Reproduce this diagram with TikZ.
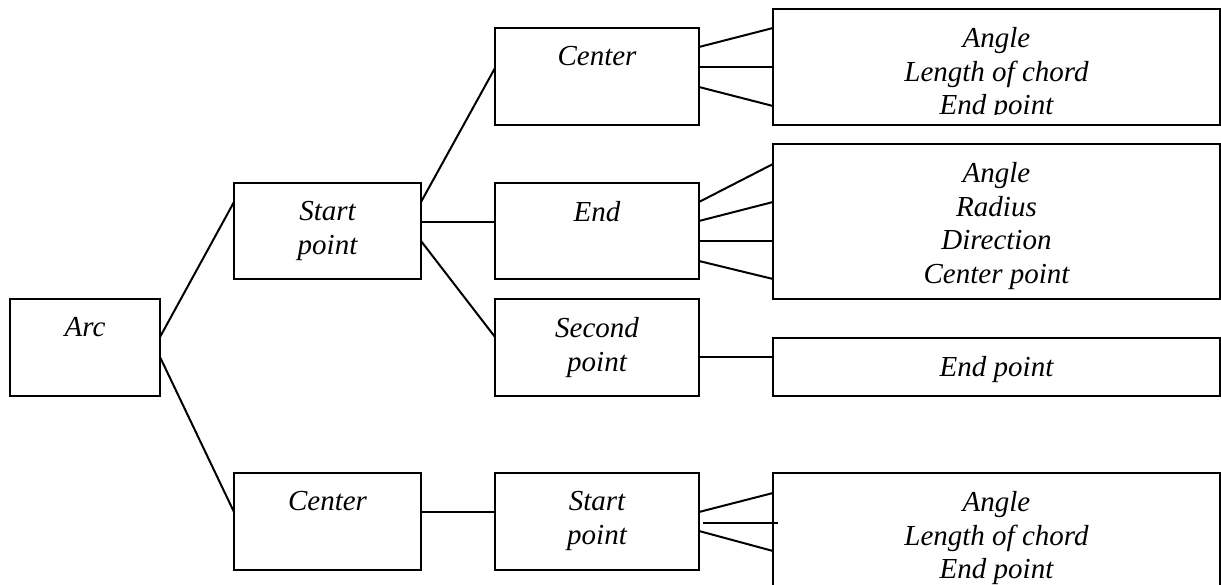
\documentclass[tikz,border=0pt]{standalone}
\usepackage{fontspec}
\setmainfont{Liberation Serif}

\begin{document}
\begin{tikzpicture}[x=1pt, y=-1pt,
    font=\fontsize{29}{33.5}\selectfont\itshape,
    box/.style={draw, line width=2pt, anchor=north west, inner sep=0pt, outer sep=0pt},
    txt/.style={anchor=north, yshift=-18.5pt, align=center, inner sep=0pt},
    link/.style={line width=2pt}
]

\useasboundingbox (0,0) rectangle (1221,585);
\clip (0,0) rectangle (1221,585);

\node[box, minimum width=150pt, minimum height=97pt, label={[txt]north:Arc}] (arc) at (10,299) {};
\node[box, minimum width=187pt, minimum height=96pt, label={[txt]north:{Start\\point}}] (startp) at (234,183) {};
\node[box, minimum width=187pt, minimum height=97pt, label={[txt]north:Center}] (centerl) at (234,473) {};

\node[box, minimum width=204pt, minimum height=97pt, label={[txt]north:Center}] (centert) at (495,28) {};
\node[box, minimum width=204pt, minimum height=96pt, label={[txt]north:End}] (end) at (495,183) {};
\node[box, minimum width=204pt, minimum height=97pt, label={[txt]north:{Second\\point}}] (second) at (495,299) {};
\node[box, minimum width=204pt, minimum height=97pt, label={[txt]north:{Start\\point}}] (startb) at (495,473) {};

\node[box, minimum width=447pt, minimum height=116pt] (r1) at (773,9) {};
\begin{scope}
\clip (r1.north west) rectangle ([yshift=10pt]r1.south east);
\node[txt] (r1txt) at (r1.north) {Angle\\Length of chord\\End point};
\end{scope}
\node[box, minimum width=447pt, minimum height=155pt, label={[txt]north:{Angle\\Radius\\Direction\\Center point}}] (r2) at (773,144) {};
\node[box, minimum width=447pt, minimum height=58pt, label={[txt]north:{End point}}] (r3) at (773,338) {};
\node[box, minimum width=447pt, minimum height=130pt, label={[txt]north:{Angle\\Length of chord\\End point}}] (r4) at (773,473) {};

\draw[link] ([yshift=-38pt]arc.north east) -- ([yshift=-19pt]startp.north west);
\draw[link] ([yshift=-58pt]arc.north east) -- ([yshift=-39pt]centerl.north west);

\draw[link] ([yshift=-19pt]startp.north east) -- ([yshift=-40pt]centert.north west);
\draw[link] ([yshift=-39pt]startp.north east) -- ([yshift=-39pt]end.north west);
\draw[link] ([yshift=-58pt]startp.north east) -- ([yshift=-38pt]second.north west);
\draw[link] ([yshift=-39pt]centerl.north east) -- ([yshift=-39pt]startb.north west);

\draw[link] ([yshift=-19pt]centert.north east) -- ([yshift=-19pt]r1.north west);
\draw[link] ([yshift=-39pt]centert.north east) -- ([yshift=-58pt]r1.north west);
\draw[link] ([yshift=-59pt]centert.north east) -- ([yshift=-97pt]r1.north west);

\draw[link] ([yshift=-19pt]end.north east) -- ([yshift=-20pt]r2.north west);
\draw[link] ([yshift=-38pt]end.north east) -- ([yshift=-58pt]r2.north west);
\draw[link] ([yshift=-58pt]end.north east) -- ([yshift=-97pt]r2.north west);
\draw[link] ([yshift=-78pt]end.north east) -- ([yshift=-135pt]r2.north west);

\draw[link] ([yshift=-58pt]second.north east) -- ([yshift=-19pt]r3.north west);

\draw[link] ([yshift=-39pt]startb.north east) -- ([yshift=-20pt]r4.north west);
\draw[link] ([xshift=4pt, yshift=-50pt]startb.north east) -- ([xshift=5pt, yshift=-50pt]r4.north west);
\draw[link] ([yshift=-58pt]startb.north east) -- ([yshift=-78pt]r4.north west);

\end{tikzpicture}
\end{document}
